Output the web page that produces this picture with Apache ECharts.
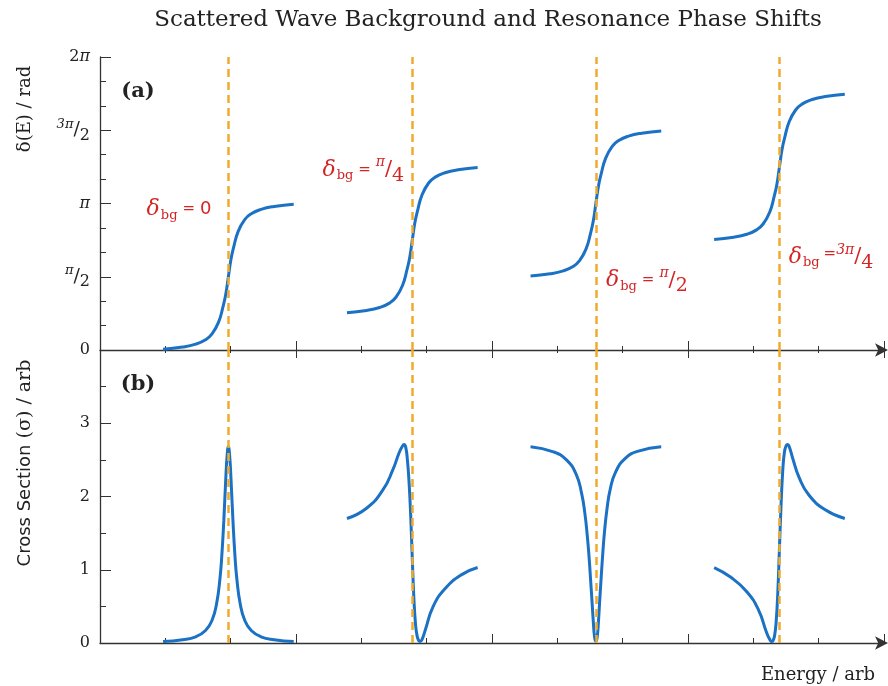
<!DOCTYPE html>
<html>
<head>
<meta charset="utf-8">
<script src="https://cdn.jsdelivr.net/npm/echarts@6/dist/echarts.min.js"></script>
<style>
  html, body { margin: 0; padding: 0; background: #fff; }
  #chart { width: 888px; height: 686px; }
</style>
</head>
<body>
<div id="chart"></div>
<script>
// resonance energies (dashed lines), arb units
const resonanceE = [1.965, 4.78, 7.59, 10.40];
// background phase labels
const bgLabels = ['0', 'π/4', 'π/2', '3π/4'];
// where the δbg labels sit (energy, phase in units of π)
const annotE = [1.21, 4.03, 8.37, 11.19];
const annotPhase = [0.96, 1.23, 0.475, 0.635];

// phase tick labels, 0 .. 2π in steps of π/2
const phaseTickLabels = ['0', 'π/2', 'π', '3π/2', '2π'];

// (a) phase shift, units of π, sampled at offsets from each resonance
const phaseOffsets = [-1.0, -0.7, -0.5, -0.35, -0.25, -0.15, -0.08, -0.04, 0, 0.04, 0.08, 0.15, 0.25, 0.35, 0.5, 0.7, 1.0];
const phase0 = [0.005, 0.02, 0.04, 0.07, 0.11, 0.19, 0.3, 0.38, 0.5, 0.62, 0.7, 0.81, 0.89, 0.93, 0.96, 0.98, 0.995];
const phase1 = [0.255, 0.27, 0.29, 0.32, 0.36, 0.44, 0.55, 0.63, 0.75, 0.87, 0.95, 1.06, 1.14, 1.18, 1.21, 1.23, 1.245];
const phase2 = [0.505, 0.52, 0.54, 0.57, 0.61, 0.69, 0.8, 0.88, 1.0, 1.12, 1.2, 1.31, 1.39, 1.43, 1.46, 1.48, 1.495];
const phase3 = [0.755, 0.77, 0.79, 0.82, 0.86, 0.94, 1.05, 1.13, 1.25, 1.37, 1.45, 1.56, 1.64, 1.68, 1.71, 1.73, 1.745];

// (b) cross section, arb
const sigOffsets0 = [-1.0, -0.7, -0.5, -0.35, -0.25, -0.18, -0.13, -0.1, -0.07, -0.04, -0.02, 0, 0.02, 0.04, 0.07, 0.1, 0.13, 0.18, 0.25, 0.35, 0.5, 0.7, 1.0];
const sigma0 = [0.02, 0.045, 0.085, 0.17, 0.31, 0.54, 0.87, 1.2, 1.67, 2.24, 2.55, 2.68, 2.55, 2.24, 1.67, 1.2, 0.87, 0.54, 0.31, 0.17, 0.085, 0.045, 0.02];
const sigOffsets1 = [-1.0, -0.7, -0.45, -0.3, -0.2, -0.15, -0.125, -0.1, -0.075, -0.05, -0.025, 0, 0.025, 0.05, 0.075, 0.1, 0.12, 0.15, 0.2, 0.32, 0.5, 0.75, 1.0];
const sigma1 = [1.7, 1.84, 2.09, 2.36, 2.6, 2.69, 2.71, 2.67, 2.5, 2.2, 1.75, 1.15, 0.6, 0.25, 0.09, 0.03, 0.02, 0.05, 0.18, 0.5, 0.74, 0.93, 1.03];
const sigOffsets2 = [-1.0, -0.65, -0.45, -0.3, -0.22, -0.17, -0.13, -0.1, -0.08, -0.06, -0.04, -0.02, 0, 0.02, 0.04, 0.06, 0.08, 0.1, 0.13, 0.17, 0.22, 0.3, 0.45, 0.65, 1.0];
const sigma2 = [2.68, 2.61, 2.5, 2.3, 2.05, 1.78, 1.45, 1.12, 0.85, 0.58, 0.3, 0.08, 0.02, 0.08, 0.3, 0.6, 0.88, 1.15, 1.5, 1.83, 2.1, 2.33, 2.52, 2.62, 2.68];
const sigOffsets3 = [-1.0, -0.75, -0.5, -0.32, -0.2, -0.15, -0.12, -0.1, -0.075, -0.05, -0.025, 0, 0.025, 0.05, 0.075, 0.1, 0.125, 0.15, 0.2, 0.3, 0.45, 0.7, 1.0];
const sigma3 = [1.03, 0.9, 0.7, 0.45, 0.15, 0.05, 0.02, 0.03, 0.1, 0.3, 0.7, 1.3, 1.9, 2.35, 2.6, 2.69, 2.71, 2.68, 2.53, 2.26, 2.02, 1.82, 1.7];

const phaseSets = [phase0, phase1, phase2, phase3];
const sigmaSets = [[sigOffsets0, sigma0], [sigOffsets1, sigma1], [sigOffsets2, sigma2], [sigOffsets3, sigma3]];

const SERIF = '"DejaVu Serif", serif';
const SANS = '"DejaVu Sans", sans-serif';
const BLUE = '#1b71c4';
const ORANGE = '#f0aa2e';
const RED = '#d42424';
const AXIS = '#333';

const chart = echarts.init(document.getElementById('chart'));

// 'π/2' -> small numerator, slash, lowered denominator
function fracRich(txt) {
    if (txt.indexOf('/') < 0) return txt.replace('π', '{pi|π}');
    const parts = txt.split('/');
    return '{num|' + parts[0] + '}{sl|/}{den|' + parts[1] + '}';
}

const tickRich = {
    pi: { fontFamily: SERIF, fontStyle: 'italic', fontSize: 16, color: '#222' },
    num: { fontFamily: SERIF, fontStyle: 'italic', fontSize: 13, color: '#222', padding: [0, 0, 12, 0] },
    sl: { fontFamily: SERIF, fontSize: 19, color: '#222' },
    den: { fontFamily: SERIF, fontSize: 16, color: '#222', padding: [11, 0, 0, 0] }
};

const annotRich = {
    d: { fontFamily: SERIF, fontStyle: 'italic', fontSize: 22, color: RED },
    sub: { fontFamily: SERIF, fontSize: 13, color: RED, padding: [12, 0, 0, 1] },
    eq: { fontFamily: SERIF, fontSize: 15, color: RED, padding: [0, 5, 0, 5] },
    eqt: { fontFamily: SERIF, fontSize: 15, color: RED, padding: [0, 0, 6, 4] },
    zero: { fontFamily: SANS, fontSize: 18, color: RED },
    num: { fontFamily: SERIF, fontStyle: 'italic', fontSize: 14, color: RED, padding: [0, 0, 14, 0] },
    sl: { fontFamily: SERIF, fontSize: 21, color: RED },
    den: { fontFamily: SERIF, fontSize: 19, color: RED, padding: [12, 0, 0, 0] }
};

function annotText(lbl) {
    const rhs = lbl === '0' ? '{zero|0}' : fracRich(lbl);
    // a long numerator sits tight against the '='
    const eq = /^\d/.test(lbl) && lbl.length > 1 ? '{eqt|=}' : '{eq|=}';
    return '{d|δ}{sub|bg}' + eq + rhs;
}

const xCommon = {
    type: 'value', min: 0, max: 12, interval: 3,
    axisLabel: { show: false },
    splitLine: { show: false }
};
const arrowLine = {
    show: true, symbol: ['none', 'arrow'], symbolSize: [10, 13], symbolOffset: [0, 4],
    lineStyle: { color: AXIS, width: 1.3 }
};

const xAxes = [
    Object.assign({}, xCommon, {
        gridIndex: 0,
        axisLine: arrowLine,
        axisTick: { show: true, inside: true, length: 9, lineStyle: { color: AXIS } },
        minorTick: { show: true, splitNumber: 3, length: 4, lineStyle: { color: AXIS } }
    }),
    // same axis again, ticks pointing down so they cross the line
    Object.assign({}, xCommon, {
        gridIndex: 0, position: 'bottom',
        axisLine: { show: false },
        axisTick: { show: true, inside: false, length: 8, lineStyle: { color: AXIS } },
        minorTick: { show: true, splitNumber: 3, length: 3, lineStyle: { color: AXIS } }
    }),
    Object.assign({}, xCommon, {
        gridIndex: 1,
        axisLine: arrowLine,
        axisTick: { show: true, inside: true, length: 9, lineStyle: { color: AXIS } },
        minorTick: { show: true, splitNumber: 3, length: 5, lineStyle: { color: AXIS } }
    })
];

const yAxes = [
    {
        gridIndex: 0, type: 'value', min: 0, max: 2, interval: 0.5,
        axisLine: { show: true, lineStyle: { color: AXIS, width: 1.3 } },
        axisTick: { show: true, inside: true, length: 11, lineStyle: { color: AXIS } },
        minorTick: { show: true, splitNumber: 3, length: 6, lineStyle: { color: AXIS } },
        splitLine: { show: false },
        axisLabel: {
            margin: 10, color: '#222', fontFamily: SERIF, fontSize: 16,
            formatter: (v) => fracRich(phaseTickLabels[Math.round(v / 0.5)]),
            rich: tickRich
        }
    },
    {
        gridIndex: 1, type: 'value', min: 0, max: 4, interval: 1,
        axisLine: { show: true, lineStyle: { color: AXIS, width: 1.3 } },
        axisTick: { show: true, inside: true, length: 11, lineStyle: { color: AXIS } },
        minorTick: { show: true, splitNumber: 2, length: 6, lineStyle: { color: AXIS } },
        splitLine: { show: false },
        axisLabel: {
            margin: 10, color: '#222', fontFamily: SERIF, fontSize: 16,
            formatter: (v) => (v === 4 ? '' : String(v))
        }
    }
];

const dashLine = (e) => ({
    silent: true, symbol: ['none', 'none'], z: 5,
    label: { show: false },
    lineStyle: { color: ORANGE, type: [8, 5], width: 2.5 },
    data: [{ xAxis: e }]
});

const series = [];
resonanceE.forEach((e0, k) => {
    series.push({
        type: 'line', xAxisIndex: 0, yAxisIndex: 0,
        data: phaseOffsets.map((o, i) => [e0 + o, phaseSets[k][i]]),
        smooth: 0.5, showSymbol: false,
        lineStyle: { color: BLUE, width: 3 },
        markLine: dashLine(e0),
        markPoint: {
            silent: true, symbol: 'circle', symbolSize: 0,
            data: [{ coord: [annotE[k], annotPhase[k]] }],
            label: { show: true, position: 'inside', formatter: annotText(bgLabels[k]), rich: annotRich }
        }
    });
    const offs = sigmaSets[k][0], vals = sigmaSets[k][1];
    series.push({
        type: 'line', xAxisIndex: 2, yAxisIndex: 1,
        data: offs.map((o, i) => [e0 + o, vals[i]]),
        smooth: 0.5, showSymbol: false,
        lineStyle: { color: BLUE, width: 3 },
        markLine: dashLine(e0)
    });
});

const txt = (x, y, text, extra) => ({
    type: 'text', x: x, y: y, silent: true,
    style: Object.assign({
        text: text, fill: '#222', fontFamily: SERIF, fontSize: 18,
        align: 'center', verticalAlign: 'middle',
        textAlign: 'center', textVerticalAlign: 'middle'
    }, extra || {})
});

const option = {
    backgroundColor: '#fff',
    animation: false,
    grid: [
        { left: 100, top: 57, width: 784, height: 293 },
        { left: 100, top: 350, width: 784, height: 293 }
    ],
    xAxis: xAxes,
    yAxis: yAxes,
    series: series,
    graphic: [
        txt(488, 20, 'Scattered Wave Background and Resonance Phase Shifts', { fontSize: 23 }),
        txt(138, 92, '(a)', { fontSize: 21, fontWeight: 'bold' }),
        txt(138, 385, '(b)', { fontSize: 21, fontWeight: 'bold' }),
        Object.assign(txt(25, 109, 'δ(E) / rad'), { rotation: Math.PI / 2 }),
        Object.assign(txt(25, 463, '{s|Cross Section} (σ) / arb', {
            fontSize: 19,
            rich: { s: { fontFamily: SANS, fontSize: 18, fill: '#222' } }
        }), { rotation: Math.PI / 2 }),
        txt(818, 675, 'Energy / arb', { fontSize: 18 })
    ]
};

chart.setOption(option);
</script>
</body>
</html>
